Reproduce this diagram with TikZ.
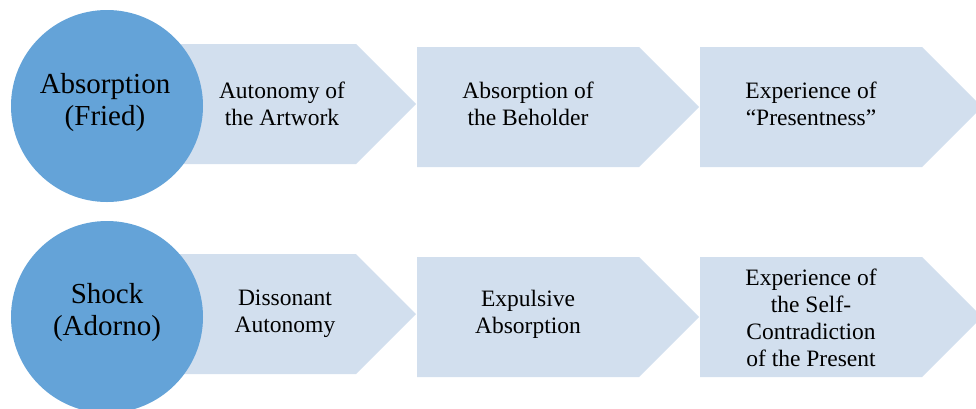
\documentclass[tikz,border=0pt]{standalone}
\usepackage{fontspec}
\setmainfont{Liberation Serif}
\definecolor{circblue}{HTML}{64A3D8}
\definecolor{stepblue}{HTML}{D2DFEE}

\begin{document}
\begin{tikzpicture}[x=1pt,y=-1pt,
    steptext/.style={align=center,font=\fontsize{23.5}{27}\selectfont,inner sep=0pt},
    circtext/.style={align=center,font=\fontsize{29}{32}\selectfont,inner sep=0pt}]
		% canvas
		\useasboundingbox (0,0) rectangle (976,408);
		% arrow shapes, first row
		\fill[stepblue] (134,44) -- (356,44) -- (416,104) -- (356,164) -- (134,164) -- cycle;
		\fill[stepblue] (417,47) -- (639,47) -- (699,107) -- (639,167) -- (417,167) -- cycle;
		\fill[stepblue] (700,47) -- (922,47) -- (982,107) -- (922,167) -- (700,167) -- cycle;
		% arrow shapes, second row
		\fill[stepblue] (134,254) -- (356,254) -- (416,314) -- (356,374) -- (134,374) -- cycle;
		\fill[stepblue] (417,257) -- (639,257) -- (699,317) -- (639,377) -- (417,377) -- cycle;
		\fill[stepblue] (700,257) -- (922,257) -- (982,317) -- (922,377) -- (700,377) -- cycle;
		% circles
		\fill[circblue] (107,106) circle (96);
		\fill[circblue] (107,317) circle (96);
		% labels
		\node[circtext] (fried) at (105,103) {Absorption\\(Fried)};
		\node[steptext] (autonomy) at (282,104) {Autonomy of\\the Artwork};
		\node[steptext] (beholder) at (528,104) {Absorption of\\the Beholder};
		\node[steptext] (presentness) at (811,104) {Experience of\\``Presentness''};
		\node[circtext] (adorno) at (107,313) {Shock\\(Adorno)};
		\node[steptext] (dissonant) at (285,314) {Dissonant\\Autonomy};
		\node[steptext] (expulsive) at (528,314) {Expulsive\\Absorption};
		\node[steptext] (contradiction) at (811,318) {Experience of\\the Self-\\Contradiction\\of the Present};
	\end{tikzpicture}
\end{document}
